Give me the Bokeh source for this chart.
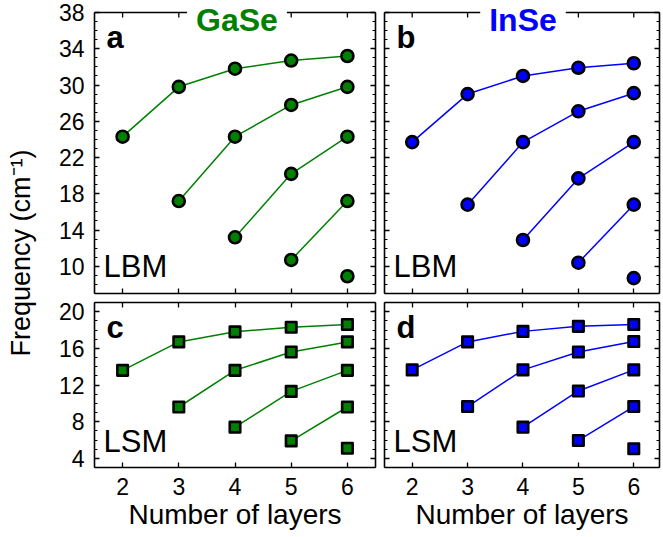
from bokeh.plotting import figure
from bokeh.models import (Range1d, LinearAxis, FixedTicker, Label, Span,
                          CustomLabelingPolicy)
from bokeh.layouts import row, column
from bokeh.embed import file_html
from bokeh.resources import INLINE

# ---------------- data ----------------
layers = [2, 3, 4, 5, 6]

# each branch starts at a later layer number and runs to N = 6
gase_lbm = [
    [24.3, 29.8, 31.8, 32.7, 33.2],
    [17.2, 24.3, 27.8, 29.8],
    [13.2, 20.2, 24.3],
    [10.7, 17.2],
    [8.9],
]
inse_lbm = [
    [23.7, 29.0, 31.0, 31.9, 32.4],
    [16.8, 23.7, 27.1, 29.1],
    [12.9, 19.7, 23.7],
    [10.4, 16.8],
    [8.7],
]
gase_lsm = [
    [13.6, 16.7, 17.8, 18.3, 18.6],
    [9.6, 13.6, 15.6, 16.7],
    [7.4, 11.3, 13.6],
    [5.9, 9.6],
    [5.1],
]
inse_lsm = [
    [13.65, 16.7, 17.85, 18.4, 18.6],
    [9.65, 13.65, 15.6, 16.75],
    [7.4, 11.35, 13.65],
    [5.95, 9.65],
    [5.05],
]

lbm_yticks = [10, 14, 18, 22, 26, 30, 34, 38]
lsm_yticks = [4, 8, 12, 16, 20]

FONT = "Liberation Sans"
GREEN = "#008000"
BLUE = "#0000ff"
SPINE_W = 1.6


def make_axis(ticker, show_labels, bounds="auto", standoff=10):
    ax = LinearAxis(ticker=ticker, bounds=bounds)
    ax.axis_line_color = "black"
    ax.axis_line_width = SPINE_W
    ax.major_tick_in = 5
    ax.major_tick_out = 0
    ax.minor_tick_in = 3
    ax.minor_tick_out = 0
    ax.major_tick_line_color = "black"
    ax.major_tick_line_width = 1.3
    ax.minor_tick_line_color = "black"
    ax.minor_tick_line_width = 1
    if show_labels:
        ax.major_label_text_font = FONT
        ax.major_label_text_font_size = "23px"
        ax.major_label_text_color = "black"
        ax.major_label_standoff = standoff
    else:
        ax.major_label_text_font_size = "1px"
        ax.major_label_standoff = 0
        ax.major_label_policy = CustomLabelingPolicy(code="return []")
    return ax


def make_panel(width, height, borders, x_span, y_lo, y_hi, yticks, branches,
               color, marker, msize, show_x, show_y, top_pad=0):
    left, right, top, bottom = borders
    frame_w = width - left - right
    frame_h = height - top - bottom
    x_end = 1.5 + x_span * frame_w
    # top_pad: pixels of frame kept above the top spine (for the title)
    y_top = y_hi + top_pad * (y_hi - y_lo) / (frame_h - top_pad)
    p = figure(width=width, height=height,
               x_range=Range1d(1.5, x_end), y_range=Range1d(y_lo, y_top),
               x_axis_location=None, y_axis_location=None,
               output_backend="svg", toolbar_location=None,
               min_border_left=left, min_border_right=right,
               min_border_top=top, min_border_bottom=bottom)
    p.outline_line_color = None
    p.background_fill_color = "white"
    p.border_fill_color = "white"
    p.xgrid.visible = False
    p.ygrid.visible = False

    xt = FixedTicker(ticks=layers, minor_ticks=[])
    yt = FixedTicker(ticks=yticks, minor_ticks=list(range(int(y_lo), int(y_hi) + 1)))
    bnd = (y_lo, y_hi) if top_pad else "auto"
    p.add_layout(make_axis(yt, show_y, bnd, standoff=10), "left")
    p.add_layout(make_axis(yt, False, bnd), "right")
    bx = make_axis(xt, show_x, standoff=10)
    if show_x:
        bx.axis_label = "Number of layers"
        bx.axis_label_text_font = FONT
        bx.axis_label_text_font_size = "28px"
        bx.axis_label_text_font_style = "normal"
        bx.axis_label_text_color = "black"
        bx.axis_label_standoff = 1
    p.add_layout(bx, "below")
    if top_pad:
        p.add_layout(Span(location=y_hi, dimension="width", line_color="black",
                          line_width=SPINE_W))
        p.ray(x=layers, y=[y_hi] * len(layers), length=5, length_units="screen",
              angle=-90, angle_units="deg", line_color="black", line_width=1.3)
    else:
        p.add_layout(make_axis(xt, False), "above")

    for k, vals in enumerate(branches):
        xs = layers[k:]
        if len(vals) > 1:
            p.line(xs, vals, line_color=color, line_width=1.5)
    for k, vals in enumerate(branches):
        xs = layers[k:]
        p.scatter(xs, vals, marker=marker, size=msize, fill_color=color,
                  line_color="black", line_width=2.6, line_join="round")
    return p


def add_text(p, text, x, y, dx, dy, size, bold=False, color="black",
             align="left", bg=None):
    lab = Label(x=x, y=y, x_offset=dx, y_offset=dy, text=text,
                text_font=FONT, text_font_size=size,
                text_font_style="bold" if bold else "normal",
                text_color=color, text_align=align,
                text_baseline="middle")
    if bg is not None:
        lab.background_fill_color = bg
        lab.padding = 9
    p.add_layout(lab)


W_Y, W_A, W_B = 44, 336, 283
H_TOP, H_BOT = 297, 240
PX_PER_UNIT = 5 / 281  # x units per pixel (same in both columns)

pa = make_panel(W_A, H_TOP, (50, 5, 0, 4), PX_PER_UNIT, 7, 38, lbm_yticks, gase_lbm,
                GREEN, "circle", 12, False, True, top_pad=12)
pb = make_panel(W_B, H_TOP, (4, 0, 0, 4), PX_PER_UNIT, 7, 38, lbm_yticks, inse_lbm,
                BLUE, "circle", 12, False, False, top_pad=12)
pc = make_panel(W_A, H_BOT, (50, 5, 5, 70), PX_PER_UNIT, 3, 21, lsm_yticks, gase_lsm,
                GREEN, "square", 10.5, True, True)
pd = make_panel(W_B, H_BOT, (4, 0, 5, 70), PX_PER_UNIT, 3, 21, lsm_yticks, inse_lsm,
                BLUE, "square", 10.5, True, False)

# titles sitting on the top spine
add_text(pa, "GaSe", 4, 38, 2, -7, "32px", bold=True, color=GREEN,
         align="center", bg="white")
add_text(pb, "InSe", 4, 38, 0, -7, "32px", bold=True, color=BLUE,
         align="center", bg="white")

# panel letters
add_text(pa, "a", 1.5, 38, 12, -25, "31px", bold=True)
add_text(pb, "b", 1.5, 38, 12, -25, "31px", bold=True)
add_text(pc, "c", 1.5, 21, 12, -25, "31px", bold=True)
add_text(pd, "d", 1.5, 21, 12, -25, "31px", bold=True)

# mode labels
add_text(pa, "LBM", 1.5, 7, 9, 27, "31px")
add_text(pb, "LBM", 1.5, 7, 9, 27, "31px")
add_text(pc, "LSM", 1.5, 3, 9, 26, "31px")
add_text(pd, "LSM", 1.5, 3, 9, 26, "31px")

# shared y-axis label
H_ALL = H_TOP + H_BOT
py = figure(width=W_Y, height=H_ALL, x_range=Range1d(0, W_Y), y_range=Range1d(0, H_ALL),
            x_axis_location=None, y_axis_location=None,
            output_backend="svg", toolbar_location=None,
            min_border_left=0, min_border_right=0, min_border_top=0, min_border_bottom=0)
py.outline_line_color = None
py.border_fill_color = "white"
py.background_fill_color = "white"
py.xgrid.visible = False
py.ygrid.visible = False
py.add_layout(Label(x=20.5, y=H_ALL - 356, text="Frequency (cm\u207b\u00b9)",
                    angle=90, angle_units="deg",
                    text_font=FONT, text_font_size="27px", text_color="black",
                    text_align="left", text_baseline="middle"))

layout = row(py, column(row(pa, pb), row(pc, pd)))

open("out.html", "w").write(file_html(layout, INLINE))
